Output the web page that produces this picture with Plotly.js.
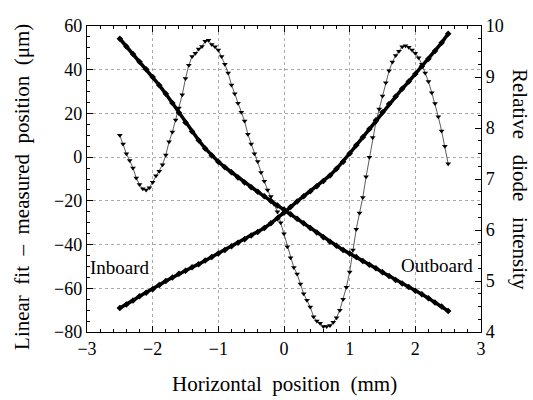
<!DOCTYPE html>
<html>
<head>
<meta charset="utf-8">
<script src="https://cdn.plot.ly/plotly-3.0.1.min.js"></script>
<style>html,body{margin:0;padding:0;background:#fff;}#chart{width:533px;height:400px;}</style>
</head>
<body>
<div id="chart"></div>
<script>
// Horizontal position (mm) for residual samples
const xResid = [
 -2.50,-2.45,-2.40,-2.35,-2.30,-2.25,-2.20,-2.15,-2.10,-2.05,
 -2.00,-1.95,-1.90,-1.85,-1.80,-1.75,-1.70,-1.65,-1.60,-1.55,
 -1.50,-1.45,-1.40,-1.35,-1.30,-1.25,-1.20,-1.15,-1.10,-1.05,
 -1.00,-0.95,-0.90,-0.85,-0.80,-0.75,-0.70,-0.65,-0.60,-0.55,
 -0.50,-0.45,-0.40,-0.35,-0.30,-0.25,-0.20,-0.15,-0.10,-0.05,
  0.00, 0.05, 0.10, 0.15, 0.20, 0.25, 0.30, 0.35, 0.40, 0.45,
  0.50, 0.55, 0.60, 0.65, 0.70, 0.75, 0.80, 0.85, 0.90, 0.95,
  1.00, 1.05, 1.10, 1.15, 1.20, 1.25, 1.30, 1.35, 1.40, 1.45,
  1.50, 1.55, 1.60, 1.65, 1.70, 1.75, 1.80, 1.85, 1.90, 1.95,
  2.00, 2.05, 2.10, 2.15, 2.20, 2.25, 2.30, 2.35, 2.40, 2.45,
  2.50
];
// Linear fit - measured position (um)
const residual = [
  10, 6, 1.5, -1.5, -5, -9.5, -12.5, -14.5, -15, -14,
  -11.5, -8.5, -6.5, -3.5, 1, 7, 11.5, 17, 22.5, 28.5,
  36, 42, 46, 47.5, 49.5, 50.6, 53, 53.5, 51.5, 50.5,
  49, 46, 42.5, 38.5, 33, 29, 24.6, 20.5, 16.5, 10.5,
  6, 1.5, -2, -7, -11, -15, -18, -21.5, -25, -30,
  -35, -41, -46, -50.5, -53.5, -58, -62.5, -65.5, -68.6, -73,
  -75, -76, -77.5, -77.5, -77, -75.5, -73.5, -70, -65, -59.5,
  -52.5, -42.5, -33, -25.5, -18.5, -9, 0, 9, 16, 22,
  28, 34, 39.5, 43.5, 46.5, 48.5, 50.5, 51, 50.3, 49,
  47.5, 45.5, 42.5, 38.5, 34.6, 29.5, 24.5, 18.5, 12, 5,
  -3
];
// Horizontal position (mm) for diode samples
const xDiode = [
 -2.5,-2.4,-2.3,-2.2,-2.1,-2.0,-1.9,-1.8,-1.7,-1.6,
 -1.5,-1.4,-1.3,-1.2,-1.1,-1.0,-0.9,-0.8,-0.7,-0.6,
 -0.5,-0.4,-0.3,-0.2,-0.1, 0.0, 0.1, 0.2, 0.3, 0.4,
  0.5, 0.6, 0.7, 0.8, 0.9, 1.0, 1.1, 1.2, 1.3, 1.4,
  1.5, 1.6, 1.7, 1.8, 1.9, 2.0, 2.1, 2.2, 2.3, 2.4,
  2.5
];
// Relative diode intensity - decreasing (outboard) diode
const diodeOut = [
  9.75, 9.60, 9.45, 9.30, 9.15, 9.00, 8.84, 8.67, 8.49, 8.30,
  8.11, 7.93, 7.76, 7.60, 7.46, 7.34, 7.23, 7.13, 7.03, 6.93,
  6.84, 6.75, 6.66, 6.57, 6.48, 6.40, 6.31, 6.22, 6.13, 6.04,
  5.95, 5.86, 5.77, 5.69, 5.61, 5.54, 5.47, 5.39, 5.32, 5.25,
  5.17, 5.10, 5.02, 4.95, 4.88, 4.81, 4.74, 4.66, 4.58, 4.50,
  4.41
];
// Relative diode intensity - increasing (inboard) diode
const diodeIn = [
  4.47, 4.54, 4.62, 4.70, 4.77, 4.84, 4.92, 5.00, 5.07, 5.14,
  5.20, 5.27, 5.33, 5.40, 5.47, 5.54, 5.61, 5.68, 5.75, 5.82,
  5.89, 5.96, 6.04, 6.13, 6.23, 6.34, 6.45, 6.56, 6.66, 6.76,
  6.86, 6.96, 7.07, 7.20, 7.34, 7.50, 7.66, 7.82, 7.98, 8.15,
  8.31, 8.47, 8.62, 8.77, 8.91, 9.06, 9.21, 9.36, 9.51, 9.67,
  9.85
];

const FONT = 'Liberation Serif, Times New Roman, serif';
const SP2 = '\u00a0\u00a0';
const SP3 = '\u00a0\u00a0\u00a0';

const traces = [
  {x: xDiode, y: diodeOut, yaxis: 'y2', type: 'scatter', mode: 'lines+markers',
   line: {color: '#000', width: 3.5}, marker: {symbol: 'diamond', size: 5, color: '#000'}},
  {x: xDiode, y: diodeIn, yaxis: 'y2', type: 'scatter', mode: 'lines+markers',
   line: {color: '#000', width: 3.5}, marker: {symbol: 'diamond', size: 5, color: '#000'}},
  {x: xResid, y: residual, yaxis: 'y', type: 'scatter', mode: 'lines+markers',
   line: {color: '#333', width: 0.8}, marker: {symbol: 'triangle-down', size: 5, color: '#000'}}
];

const axisCommon = {
  ticks: 'inside', ticklen: 6, tickwidth: 1, tickcolor: '#000',
  showline: true, linecolor: '#000', linewidth: 1.2,
  zeroline: false, tickfont: {family: FONT, size: 18, color: '#000'}
};

const layout = {
  width: 533, height: 400,
  margin: {l: 87, r: 52, t: 26, b: 68},
  paper_bgcolor: '#fff', plot_bgcolor: '#fff',
  showlegend: false,
  font: {family: FONT, color: '#000'},
  xaxis: Object.assign({}, axisCommon, {
    range: [-3, 3], tick0: 0, dtick: 1, mirror: 'ticks',
    showgrid: true, gridcolor: '#aaa', griddash: 'dot', gridwidth: 1,
    minor: {dtick: 0.2, ticks: 'inside', ticklen: 3, tickcolor: '#000', showgrid: false}
  }),
  yaxis: Object.assign({}, axisCommon, {
    range: [-80, 60], tick0: 0, dtick: 20,
    showgrid: true, gridcolor: '#aaa', griddash: 'dot', gridwidth: 1,
    minor: {dtick: 5, ticks: 'inside', ticklen: 3, tickcolor: '#000', showgrid: false}
  }),
  yaxis2: Object.assign({}, axisCommon, {
    range: [4, 10], tick0: 4, dtick: 1, overlaying: 'y', side: 'right',
    showgrid: false,
    minor: {dtick: 0.25, ticks: 'inside', ticklen: 3, tickcolor: '#000', showgrid: false}
  }),
  annotations: [
    {text: 'Horizontal' + SP2 + 'position' + SP2 + '(mm)', xref: 'paper', yref: 'paper',
     x: 0.5, y: -0.17, xanchor: 'center', yanchor: 'middle', showarrow: false,
     font: {family: FONT, size: 21, color: '#000'}},
    {text: 'Linear' + SP2 + 'fit' + SP2 + '–' + SP2 + 'measured' + SP2 + 'position' + SP2 + '(μm)', xref: 'paper', yref: 'paper',
     x: -0.165, y: 0.474, xanchor: 'center', yanchor: 'middle', textangle: -90, showarrow: false,
     font: {family: FONT, size: 21, color: '#000'}},
    {text: 'Relative' + SP3 + 'diode' + SP3 + 'intensity', xref: 'paper', yref: 'paper',
     x: 1.099, y: 0.5, xanchor: 'center', yanchor: 'middle', textangle: 90, showarrow: false,
     font: {family: FONT, size: 21, color: '#000'}},
    {text: 'Inboard', xref: 'paper', yref: 'paper', x: 0.003, y: 0.212,
     xanchor: 'left', yanchor: 'middle', showarrow: false,
     font: {family: FONT, size: 19, color: '#000'}},
    {text: 'Outboard', xref: 'paper', yref: 'paper', x: 0.985, y: 0.216,
     xanchor: 'right', yanchor: 'middle', showarrow: false,
     font: {family: FONT, size: 19, color: '#000'}}
  ]
};

Plotly.newPlot('chart', traces, layout, {displayModeBar: false, staticPlot: true});
</script>
</body>
</html>
